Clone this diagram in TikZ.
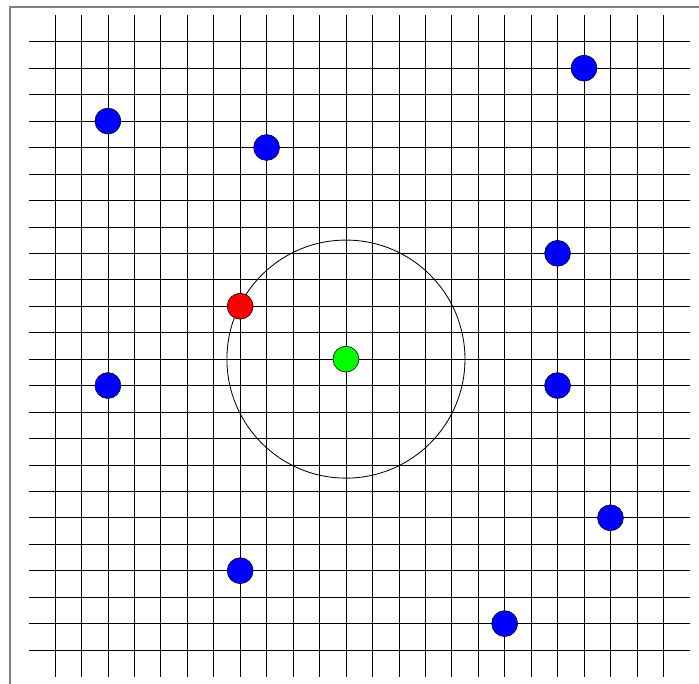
\documentclass[tikz,border=0pt]{standalone}
\begin{document}
\begin{tikzpicture}[x=1cm,y=1cm,
  gridline/.style={black,line width=0.7pt},
  dot/.style={circle,draw=black,line width=0.6pt,minimum size=0.98cm,inner sep=0pt},
  bluedot/.style={dot,fill=blue},
  reddot/.style={dot,fill=red},
  greendot/.style={dot,fill={rgb,255:red,0;green,255;blue,0}}]
\useasboundingbox (-1.0794,-25.246) rectangle (25.348,0.5766);
\clip (-1.0794,-25.246) rectangle (25.348,0.5766);
\draw[gray,line width=1.3pt] (-0.7013,-26) rectangle (26,0.312);
\foreach \k in {1,...,24}{
  \draw[gridline] (\k,0) -- (\k,-25);
  \draw[gridline] (0,-\k) -- (25,-\k);
}
\coordinate (c) at (12,-13);
\draw[black,line width=0.9pt] (c) circle (4.5);
\node[greendot] (g) at (c) {};
\node[reddot] (r) at (8,-11) {};
\node[bluedot] (b1) at (3,-4) {};
\node[bluedot] (b2) at (21,-2) {};
\node[bluedot] (b3) at (9,-5) {};
\node[bluedot] (b4) at (20,-9) {};
\node[bluedot] (b5) at (3,-14) {};
\node[bluedot] (b6) at (20,-14) {};
\node[bluedot] (b7) at (22,-19) {};
\node[bluedot] (b8) at (8,-21) {};
\node[bluedot] (b9) at (18,-23) {};
\end{tikzpicture}
\end{document}
